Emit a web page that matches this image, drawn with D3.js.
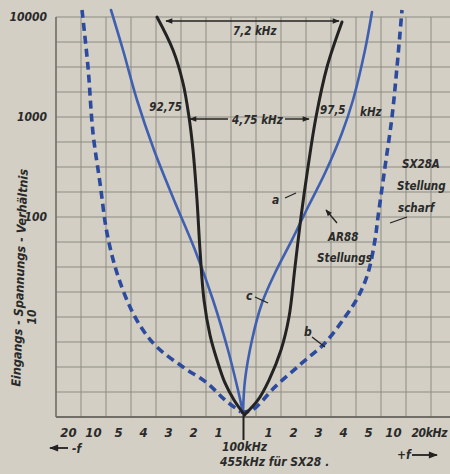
<!DOCTYPE html>
<html>
<head>
<meta charset="utf-8">
<script src="https://cdn.jsdelivr.net/npm/d3@7"></script>
<style>
  body { margin: 0; background: #d2cec3; }
  svg text { font-family: "Liberation Sans Narrow", "DejaVu Sans Condensed", sans-serif; font-style: italic; font-weight: bold; fill: #2a2a2a; }
</style>
</head>
<body>
<script>
// offset from centre frequency in kHz (negative = -f side)
var xTicks = [-20, -10, -5, -4, -3, -2, -1, 0, 1, 2, 3, 4, 5, 10, 20];
var xTickLabels = ["20", "10", "5", "4", "3", "2", "1", "", "1", "2", "3", "4", "5", "10", "20kHz"];
var yTicks = [10000, 1000, 100, 10];

// curve a (black)
var curveALeft = [[-3.46, 10000], [-2.82, 4677], [-2.42, 2188], [-2.18, 1000], [-2.02, 468], [-1.86, 148],
	[-1.74, 46.8], [-1.58, 14.8], [-1.34, 6.6], [-1.06, 3.72], [-0.74, 2.19], [-0.38, 1.48], [0.04, 1.05]];
var curveARight = [[0.04, 1.05], [0.58, 1.48], [1.02, 2.34], [1.5, 4.68], [1.82, 10], [2.06, 31.6],
	[2.3, 100], [2.58, 316], [2.9, 1000], [3.34, 3162], [3.94, 8913]];

// curve c (blue, AR88)
var curveCLeft = [[-6.5, 11750], [-4.82, 4677], [-4.26, 1479], [-3.58, 468], [-2.78, 148], [-1.94, 46.8],
	[-1.22, 14.8], [-0.62, 4.68], [-0.22, 1.86], [-0.02, 1.1]];
var curveCRight = [[-0.02, 1.1], [0.06, 2.34], [0.34, 5.9], [0.74, 13.8], [1.26, 27.5], [1.94, 59],
	[2.58, 126], [3.26, 275], [3.94, 692], [4.38, 1479], [4.86, 4677], [5.7, 11220]];

// curve b (dashed blue, SX28A scharf)
var curveBLeft = [[-14.6, 11750], [-12.2, 3162], [-10.2, 692], [-8.7, 219], [-7.3, 69], [-5.3, 27.5],
	[-4.54, 12.6], [-4.02, 7.4], [-3.46, 5.0], [-2.42, 3.16], [-1.46, 2.19], [-0.74, 1.48], [-0.1, 1.12]];
var curveBRight = [[-0.1, 1.12], [0.34, 1.17], [1.26, 2.0], [2.34, 3.47], [3.26, 5.5], [4.06, 10], [4.58, 15.8],
	[4.98, 27.5], [6.3, 59], [6.9, 100], [8.3, 316], [9.7, 1000], [11.4, 3162], [13.4, 11750]];

var width = 450,
	height = 474;
var step = 25, firstTick = 68.5;
var plotTop = 17, plotBottom = 417;

var svg = d3.select("body").append("svg")
	.attr("width", width)
	.attr("height", height);

svg.append("rect").attr("width", width).attr("height", height).attr("fill", "#d3cfc4");

var xScale = d3.scaleLinear()
	.domain(xTicks)
	.range(xTicks.map((d, i) => firstTick + i * step));

var yScale = d3.scaleLog()
	.domain([1, 10000])
	.range([plotBottom, plotTop]);

var grid = svg.append("g").attr("stroke", "#8d8b83").attr("stroke-width", 1);

// vertical grid lines sit halfway between the tick positions
var vLines = xTicks.map(t => xScale(t) - step / 2);
vLines.push(xScale(20) + step / 2);
grid.selectAll(".v").data(vLines).enter().append("line")
	.attr("x1", d => d).attr("x2", d => d)
	.attr("y1", plotTop).attr("y2", plotBottom);

var hLines = d3.range(0, 17).map(k => Math.pow(10, k / 4));
grid.selectAll(".h").data(hLines).enter().append("line")
	.attr("x1", vLines[0]).attr("x2", width)
	.attr("y1", d => yScale(d)).attr("y2", d => yScale(d));

svg.append("line").attr("x1", vLines[0]).attr("x2", width)
	.attr("y1", yScale(1)).attr("y2", yScale(1))
	.attr("stroke", "#5c5a54").attr("stroke-width", 1.6);
svg.append("line").attr("x1", vLines[0]).attr("x2", vLines[0])
	.attr("y1", plotTop).attr("y2", plotBottom)
	.attr("stroke", "#6a6862").attr("stroke-width", 1.3);

// centre marker below the axis
svg.append("line").attr("x1", xScale(0)).attr("x2", xScale(0))
	.attr("y1", yScale(1.05)).attr("y2", plotBottom + 23)
	.attr("stroke", "#222").attr("stroke-width", 2);

var line = d3.line()
	.x(d => xScale(d[0]))
	.y(d => yScale(d[1]))
	.curve(d3.curveCatmullRom);

function drawCurve(branches, color, w, dash) {
	branches.forEach(b => {
		svg.append("path")
			.attr("d", line(b))
			.attr("fill", "none")
			.attr("stroke", color)
			.attr("stroke-width", w)
			.attr("stroke-linecap", dash ? "butt" : "round")
			.attr("stroke-dasharray", dash || null);
	});
}

drawCurve([curveBLeft, curveBRight], "#2c4a9e", 3.6, "8,5");
drawCurve([curveCLeft, curveCRight], "#3f5fb0", 2.6, null);
drawCurve([curveALeft, curveARight], "#232323", 3, null);

// x tick labels
var last = xTicks.length - 1;
svg.selectAll(".xt").data(xTicks).enter().append("text")
	.attr("x", (d, i) => i === last ? xScale(d) - 7 : xScale(d))
	.attr("y", 437)
	.attr("text-anchor", (d, i) => i === last ? "start" : "middle")
	.attr("font-size", (d, i) => i === last ? 12 : 13)
	.attr("letter-spacing", (d, i) => i === last ? -0.4 : null)
	.text((d, i) => xTickLabels[i]);

// y tick labels
svg.selectAll(".yt").data(yTicks.filter(d => d > 10)).enter().append("text")
	.attr("x", 47)
	.attr("y", d => yScale(d) + 4)
	.attr("text-anchor", "end")
	.attr("font-size", 12)
	.text(d => d);
svg.append("text")
	.attr("transform", `translate(36, ${yScale(10)}) rotate(-90)`)
	.attr("text-anchor", "middle")
	.attr("font-size", 12)
	.text("10");

svg.append("text")
	.attr("transform", "translate(24, 278) rotate(-88)")
	.attr("text-anchor", "middle")
	.attr("font-size", 12.5)
	.text("Eingangs - Spannungs - Verhältnis");

svg.append("text").attr("x", 222).attr("y", 451).attr("font-size", 12).text("100kHz");
svg.append("text").attr("x", 220).attr("y", 466).attr("font-size", 12).text("455kHz für SX28 .");
svg.append("text").attr("x", 72).attr("y", 453).attr("font-size", 12).text("-f");
svg.append("text").attr("x", 397).attr("y", 459).attr("font-size", 12).text("+f");

var defs = svg.append("defs");
defs.append("marker").attr("id", "ah")
	.attr("viewBox", "0 0 10 10").attr("refX", 9).attr("refY", 5)
	.attr("markerWidth", 7).attr("markerHeight", 5).attr("orient", "auto-start-reverse")
	.append("path").attr("d", "M0,1 L10,5 L0,9 z").attr("fill", "#222");

function arrow(x1, y1, x2, y2, w) {
	svg.append("line").attr("x1", x1).attr("y1", y1).attr("x2", x2).attr("y2", y2)
		.attr("stroke", "#222").attr("stroke-width", w || 1.4)
		.attr("marker-end", "url(#ah)");
}
function tick(x1, y1, x2, y2) {
	svg.append("line").attr("x1", x1).attr("y1", y1).attr("x2", x2).attr("y2", y2)
		.attr("stroke", "#222").attr("stroke-width", 1.3);
}

arrow(68, 448, 50, 448, 1.8);
arrow(412, 455, 437, 455, 1.8);

// bandwidth arrows
arrow(250, 21, 166, 21);
arrow(250, 21, 339, 21);
svg.append("text").attr("x", 233).attr("y", 35).attr("font-size", 11.5).text("7,2 kHz");

arrow(228, 119, 190, 119);
arrow(285, 119, 309, 119);
svg.append("text").attr("x", 232).attr("y", 124).attr("font-size", 11.5).text("4,75 kHz");

svg.append("text").attr("x", 182).attr("y", 111).attr("text-anchor", "end").attr("font-size", 11.5).text("92,75");
svg.append("text").attr("x", 320).attr("y", 114).attr("font-size", 11.5).text("97,5");
svg.append("text").attr("x", 360).attr("y", 116).attr("font-size", 11.5).text("kHz");

svg.append("text").attr("x", 272).attr("y", 204).attr("font-size", 12).text("a");
tick(285, 198, 296, 193);
svg.append("text").attr("x", 246).attr("y", 300).attr("font-size", 12).text("c");
tick(255, 297, 268, 303);
svg.append("text").attr("x", 304).attr("y", 336).attr("font-size", 12).text("b");
tick(312, 337, 325, 347);

arrow(337, 223, 326, 210, 1.3);
svg.append("text").attr("x", 328).attr("y", 241).attr("font-size", 11.5).text("AR88");
svg.append("text").attr("x", 317).attr("y", 262).attr("font-size", 11.5).text("Stellungs");

svg.append("text").attr("x", 402).attr("y", 168).attr("font-size", 11.5).text("SX28A");
svg.append("text").attr("x", 397).attr("y", 190).attr("font-size", 11.5).text("Stellung");
svg.append("text").attr("x", 398).attr("y", 212).attr("font-size", 11.5).text("scharf");
tick(390, 223, 407, 217);
</script>
</body>
</html>
